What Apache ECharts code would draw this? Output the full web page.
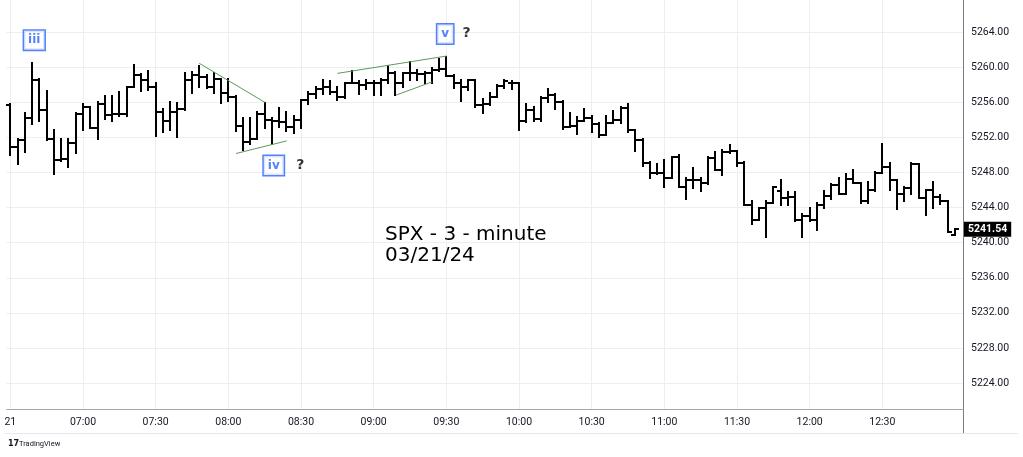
<!DOCTYPE html>
<html>
<head>
<meta charset="utf-8">
<script src="https://cdn.jsdelivr.net/npm/echarts@6/dist/echarts.min.js"></script>
<style>
html,body{margin:0;padding:0;background:#fff;}
#chart{width:1023px;height:457px;}
</style>
</head>
<body>
<div id="chart"></div>
<script>
// 3-minute bars, 06:30 .. 13:00 (index 0 = 06:30)
const barOpen = [
5255.7,5250.9,5251.7,5254.2,5258.6,5255.1,5251.8,5249.4,5249.5,5251.4,
5254.7,5255.5,5253.1,5255.8,5254.6,5254.7,5254.7,5257.8,5259.1,5258.6,
5257.8,5254.9,5253.9,5254.9,5255.3,5258.6,5259.1,5258.9,5257.8,5258.7,
5257.1,5256.6,5253.3,5251.5,5251.8,5254.7,5254.0,5253.9,5253.8,5253.2,
5254.0,5256.3,5257.0,5257.5,5257.8,5257.2,5256.6,5258.2,5258.2,5258.0,
5258.2,5258.2,5258.5,5259.3,5258.2,5259.3,5259.3,5259.2,5259.3,5259.7,
5259.8,5259.0,5258.2,5257.7,5258.5,5255.7,5255.8,5256.6,5257.9,5258.2,
5258.2,5253.9,5255.1,5254.1,5256.5,5256.8,5256.0,5253.2,5253.3,5253.9,
5254.2,5253.5,5252.3,5253.7,5254.0,5255.4,5252.8,5251.7,5249.1,5248.0,
5248.0,5247.4,5249.8,5246.4,5247.2,5247.2,5246.8,5249.7,5248.3,5250.4,
5250.5,5249.1,5244.3,5242.6,5243.9,5244.5,5245.9,5245.1,5245.2,5242.6,
5243.1,5242.6,5244.3,5245.3,5246.6,5245.6,5247.3,5246.8,5244.7,5246.0,
5247.9,5248.6,5247.1,5245.5,5246.2,5249.0,5245.1,5246.0,5245.2,5244.7,
5240.9];
const barHigh = [
5255.8,5251.8,5254.8,5260.5,5258.7,5257.3,5252.8,5251.8,5251.8,5254.8,
5255.8,5255.5,5256.0,5256.7,5256.7,5257.2,5257.8,5260.3,5259.2,5259.6,
5258.2,5255.3,5256.0,5255.9,5259.4,5259.5,5260.2,5259.1,5259.4,5258.7,
5258.7,5256.7,5254.2,5254.2,5254.9,5255.9,5254.2,5255.4,5254.9,5254.4,
5256.3,5257.2,5257.7,5258.5,5258.4,5257.8,5258.2,5259.6,5258.4,5258.6,
5258.4,5258.7,5260.1,5259.5,5259.3,5260.6,5259.7,5259.5,5259.9,5260.9,
5261.2,5259.1,5258.5,5258.5,5258.5,5256.4,5257.1,5258.0,5258.5,5258.4,
5258.2,5255.8,5255.5,5256.6,5257.5,5257.0,5256.2,5254.8,5254.3,5255.3,
5254.5,5253.6,5254.4,5255.0,5255.5,5255.8,5252.8,5251.8,5249.2,5249.0,
5249.4,5249.8,5250.0,5247.4,5248.5,5247.4,5249.8,5250.4,5250.6,5251.1,
5250.5,5249.2,5244.8,5244.0,5244.7,5246.4,5247.1,5245.8,5245.8,5243.3,
5243.9,5244.5,5245.9,5246.7,5247.4,5247.8,5248.3,5246.8,5246.9,5248.1,
5251.3,5249.1,5247.2,5246.4,5249.1,5249.0,5246.0,5246.9,5245.4,5244.7,
5241.54];
const barLow = [
5250.0,5249.0,5250.4,5253.5,5253.9,5251.7,5247.8,5249.3,5248.6,5250.2,
5252.8,5253.1,5251.8,5254.1,5253.9,5254.5,5254.4,5257.8,5257.3,5257.4,
5252.2,5252.6,5252.8,5252.0,5255.1,5257.1,5257.8,5257.6,5257.1,5255.9,
5256.2,5252.7,5250.6,5251.3,5251.8,5253.1,5251.2,5253.2,5252.7,5252.5,
5253.1,5255.8,5256.5,5257.0,5257.0,5256.3,5256.5,5258.2,5257.0,5257.5,
5256.8,5256.8,5258.2,5256.8,5257.8,5258.6,5258.6,5258.2,5258.2,5259.6,
5259.0,5257.6,5256.2,5257.4,5255.5,5254.8,5255.7,5256.6,5257.6,5257.5,
5252.8,5253.8,5253.9,5253.9,5256.0,5255.3,5253.0,5253.2,5252.4,5253.9,
5252.6,5252.1,5252.3,5253.7,5253.7,5252.6,5250.5,5248.8,5247.4,5247.8,
5246.4,5247.4,5246.4,5245.0,5246.2,5245.9,5246.7,5248.3,5247.7,5250.2,
5248.7,5244.3,5242.1,5242.6,5240.7,5244.5,5244.3,5244.3,5242.5,5240.7,
5242.5,5241.4,5244.0,5245.0,5245.5,5245.6,5246.8,5244.5,5244.5,5245.9,
5247.9,5246.0,5243.8,5244.7,5245.5,5245.1,5243.2,5243.9,5244.4,5241.2,
5240.9];
const barClose = [
5250.9,5251.7,5254.2,5258.6,5255.1,5251.8,5249.4,5249.5,5251.4,5254.7,
5255.5,5253.1,5255.8,5254.6,5254.7,5254.7,5257.8,5259.1,5258.6,5257.8,
5254.9,5253.9,5254.9,5255.3,5258.6,5259.1,5258.9,5257.8,5258.7,5257.1,
5256.6,5253.3,5251.5,5251.8,5254.7,5254.0,5253.9,5253.8,5253.2,5254.0,
5256.3,5257.0,5257.5,5257.8,5257.2,5256.6,5258.2,5258.2,5258.0,5258.2,
5258.2,5258.5,5259.3,5258.2,5259.3,5259.3,5259.2,5259.3,5259.7,5259.8,
5259.0,5258.2,5257.7,5258.5,5255.7,5255.8,5256.6,5257.9,5258.4,5258.2,
5253.9,5255.1,5254.1,5256.5,5256.8,5256.0,5253.2,5253.3,5253.9,5254.2,
5253.5,5252.3,5253.7,5254.0,5255.4,5252.8,5251.7,5249.1,5248.0,5248.0,
5247.4,5249.8,5246.4,5247.2,5247.2,5246.8,5249.7,5248.3,5250.4,5250.5,
5249.1,5244.3,5242.6,5243.9,5244.5,5246.4,5245.1,5245.2,5242.6,5243.1,
5242.6,5244.3,5245.3,5246.6,5245.6,5247.3,5246.8,5244.7,5246.0,5247.9,
5248.6,5247.1,5245.5,5246.2,5249.0,5245.1,5246.0,5245.2,5244.7,5241.2,
5241.54];

// time-axis tick labels (bar index -> label)
const timeTickIndex = [0,10,20,30,40,50,60,70,80,90,100,110,120];
const timeTickLabel = ['21','07:00','07:30','08:00','08:30','09:00','09:30','10:00','10:30','11:00','11:30','12:00','12:30'];
// price-axis tick labels
const priceTicks = [5224,5228,5232,5236,5240,5244,5248,5252,5256,5260,5264];
const lastPrice = 5241.54;

// wave labels [barIndex, price, text]
const waveLabels = [[3.3,5263.1,'iii'],[36.25,5248.8,'iv'],[59.85,5263.8,'v']];
const questionMarks = [[39.9,5248.8],[62.8,5263.85]];
// trend lines [[i1,p1],[i2,p2]]
const trendLines = [
  [[26.0,5260.46],[35.05,5256.0]],
  [[31.06,5250.17],[38.03,5251.61]],
  [[45.0,5259.31],[60.05,5261.29]],
  [[53.07,5256.83],[58.07,5258.35]]
];

const ohlc = barOpen.map((o,i)=>[i,o,barHigh[i],barLow[i],barClose[i]]);

const chart = echarts.init(document.getElementById('chart'), null, {renderer:'canvas'});
const gridColor = '#eceef2';
const textColor = '#131722';

const series = [{
  type:'custom',
  data: ohlc,
  encode:{x:0,y:[1,2,3,4]},
  clip:true,
  renderItem:function(params, api){
    const idx = api.value(0);
    const o = api.coord([idx, api.value(1)]);
    const h = api.coord([idx, api.value(2)]);
    const l = api.coord([idx, api.value(3)]);
    const c = api.coord([idx, api.value(4)]);
    const hw = api.size([1,0])[0]*0.5;
    const x = Math.round(h[0]);
    const st = {stroke:'#000', lineWidth:2, fill:null};
    return {type:'group', children:[
      {type:'line', shape:{x1:x, y1:Math.round(h[1])-1, x2:x, y2:Math.round(l[1])+1}, style:st},
      {type:'line', shape:{x1:Math.round(x-hw), y1:Math.round(o[1]), x2:x, y2:Math.round(o[1])}, style:st},
      {type:'line', shape:{x1:x, y1:Math.round(c[1]), x2:Math.round(x+hw), y2:Math.round(c[1])}, style:st}
    ]};
  }
}];
trendLines.forEach(t=>{
  series.push({type:'line', data:t, symbol:'none', silent:true,
    lineStyle:{color:'#5b9a5b', width:1}, z:3});
});
series.push({
  type:'scatter', symbolSize:0, silent:true, z:5,
  data: waveLabels.map(w=>({value:[w[0],w[1]], name:w[2]})),
  label:{show:true, position:'inside', formatter:'{b}', color:'#2962ff',
    fontFamily:'DejaVu Sans', fontWeight:'bold', fontSize:12, lineHeight:14, backgroundColor:'#fff',
    borderColor:'#2962ff', borderWidth:1.5, padding:[3,4,2,4]}
});
series.push({
  type:'scatter', symbolSize:0, silent:true, z:5,
  data: questionMarks.map(q=>({value:q, name:'?'})),
  label:{show:true, position:'inside', formatter:'{b}', color:'#000',
    fontFamily:'DejaVu Sans', fontWeight:'bold', fontSize:14}
});

const option = {
  animation:false,
  backgroundColor:'#fff',
  title:[{
    text:'SPX - 3 - minute\n03/21/24', left:385, top:224, padding:0,
    textStyle:{fontFamily:'DejaVu Sans', fontSize:20, fontWeight:'normal', color:'#000', lineHeight:21.5}
  },{
    text:'TradingView', left:19, top:440, padding:0,
    textStyle:{fontFamily:'Roboto', fontSize:7.5, fontWeight:'normal', color:'#131722'}
  },{
    text:'17', left:8, top:439.5, padding:0,
    textStyle:{fontFamily:'DejaVu Sans', fontSize:8, fontWeight:'bold', color:'#131722'}
  }],
  grid:{left:6.67, right:60, top:0, bottom:48},
  xAxis:{
    type:'value', min:-0.5, max:131.1,
    axisLine:{show:true, onZero:false, lineStyle:{color:'#a3a6af', width:1}},
    axisTick:{show:false, customValues:timeTickIndex},
    axisLabel:{customValues:timeTickIndex, margin:8, color:textColor, fontFamily:'Roboto', fontSize:10.5,
      formatter:function(v){const k=timeTickIndex.indexOf(Math.round(v)); return k>=0?timeTickLabel[k]:'';}},
    splitLine:{show:true, lineStyle:{color:gridColor, width:1}}
  },
  yAxis:[{
    type:'value', position:'right', min:5221.03, max:5267.68,
    axisLine:{show:true, onZero:false, lineStyle:{color:'#787b86', width:1}},
    axisTick:{show:false, customValues:priceTicks},
    axisLabel:{customValues:priceTicks, margin:8, color:textColor, fontFamily:'Roboto', fontSize:10.5,
      formatter:function(v){return v.toFixed(2);}},
    splitLine:{show:true, lineStyle:{color:gridColor, width:1}}
  },{
    type:'value', position:'right', min:5221.03, max:5267.68,
    axisLine:{show:false, onZero:false}, axisTick:{show:false}, splitLine:{show:false},
    axisLabel:{customValues:[lastPrice], margin:1, color:'#fff', fontFamily:'Roboto', fontWeight:'bold',
      fontSize:10.5, backgroundColor:'#000', padding:[2,4,2,4],
      formatter:function(v){return v.toFixed(2);}}
  }],
  graphic:[
    {type:'line', shape:{x1:963.5, y1:409, x2:963.5, y2:433}, style:{stroke:'#787b86', lineWidth:1}},
    {type:'line', shape:{x1:4, y1:433.5, x2:1018, y2:433.5}, style:{stroke:'#e6e8ee', lineWidth:1}}
  ],
  series: series
};
chart.setOption(option);
</script>
</body>
</html>
